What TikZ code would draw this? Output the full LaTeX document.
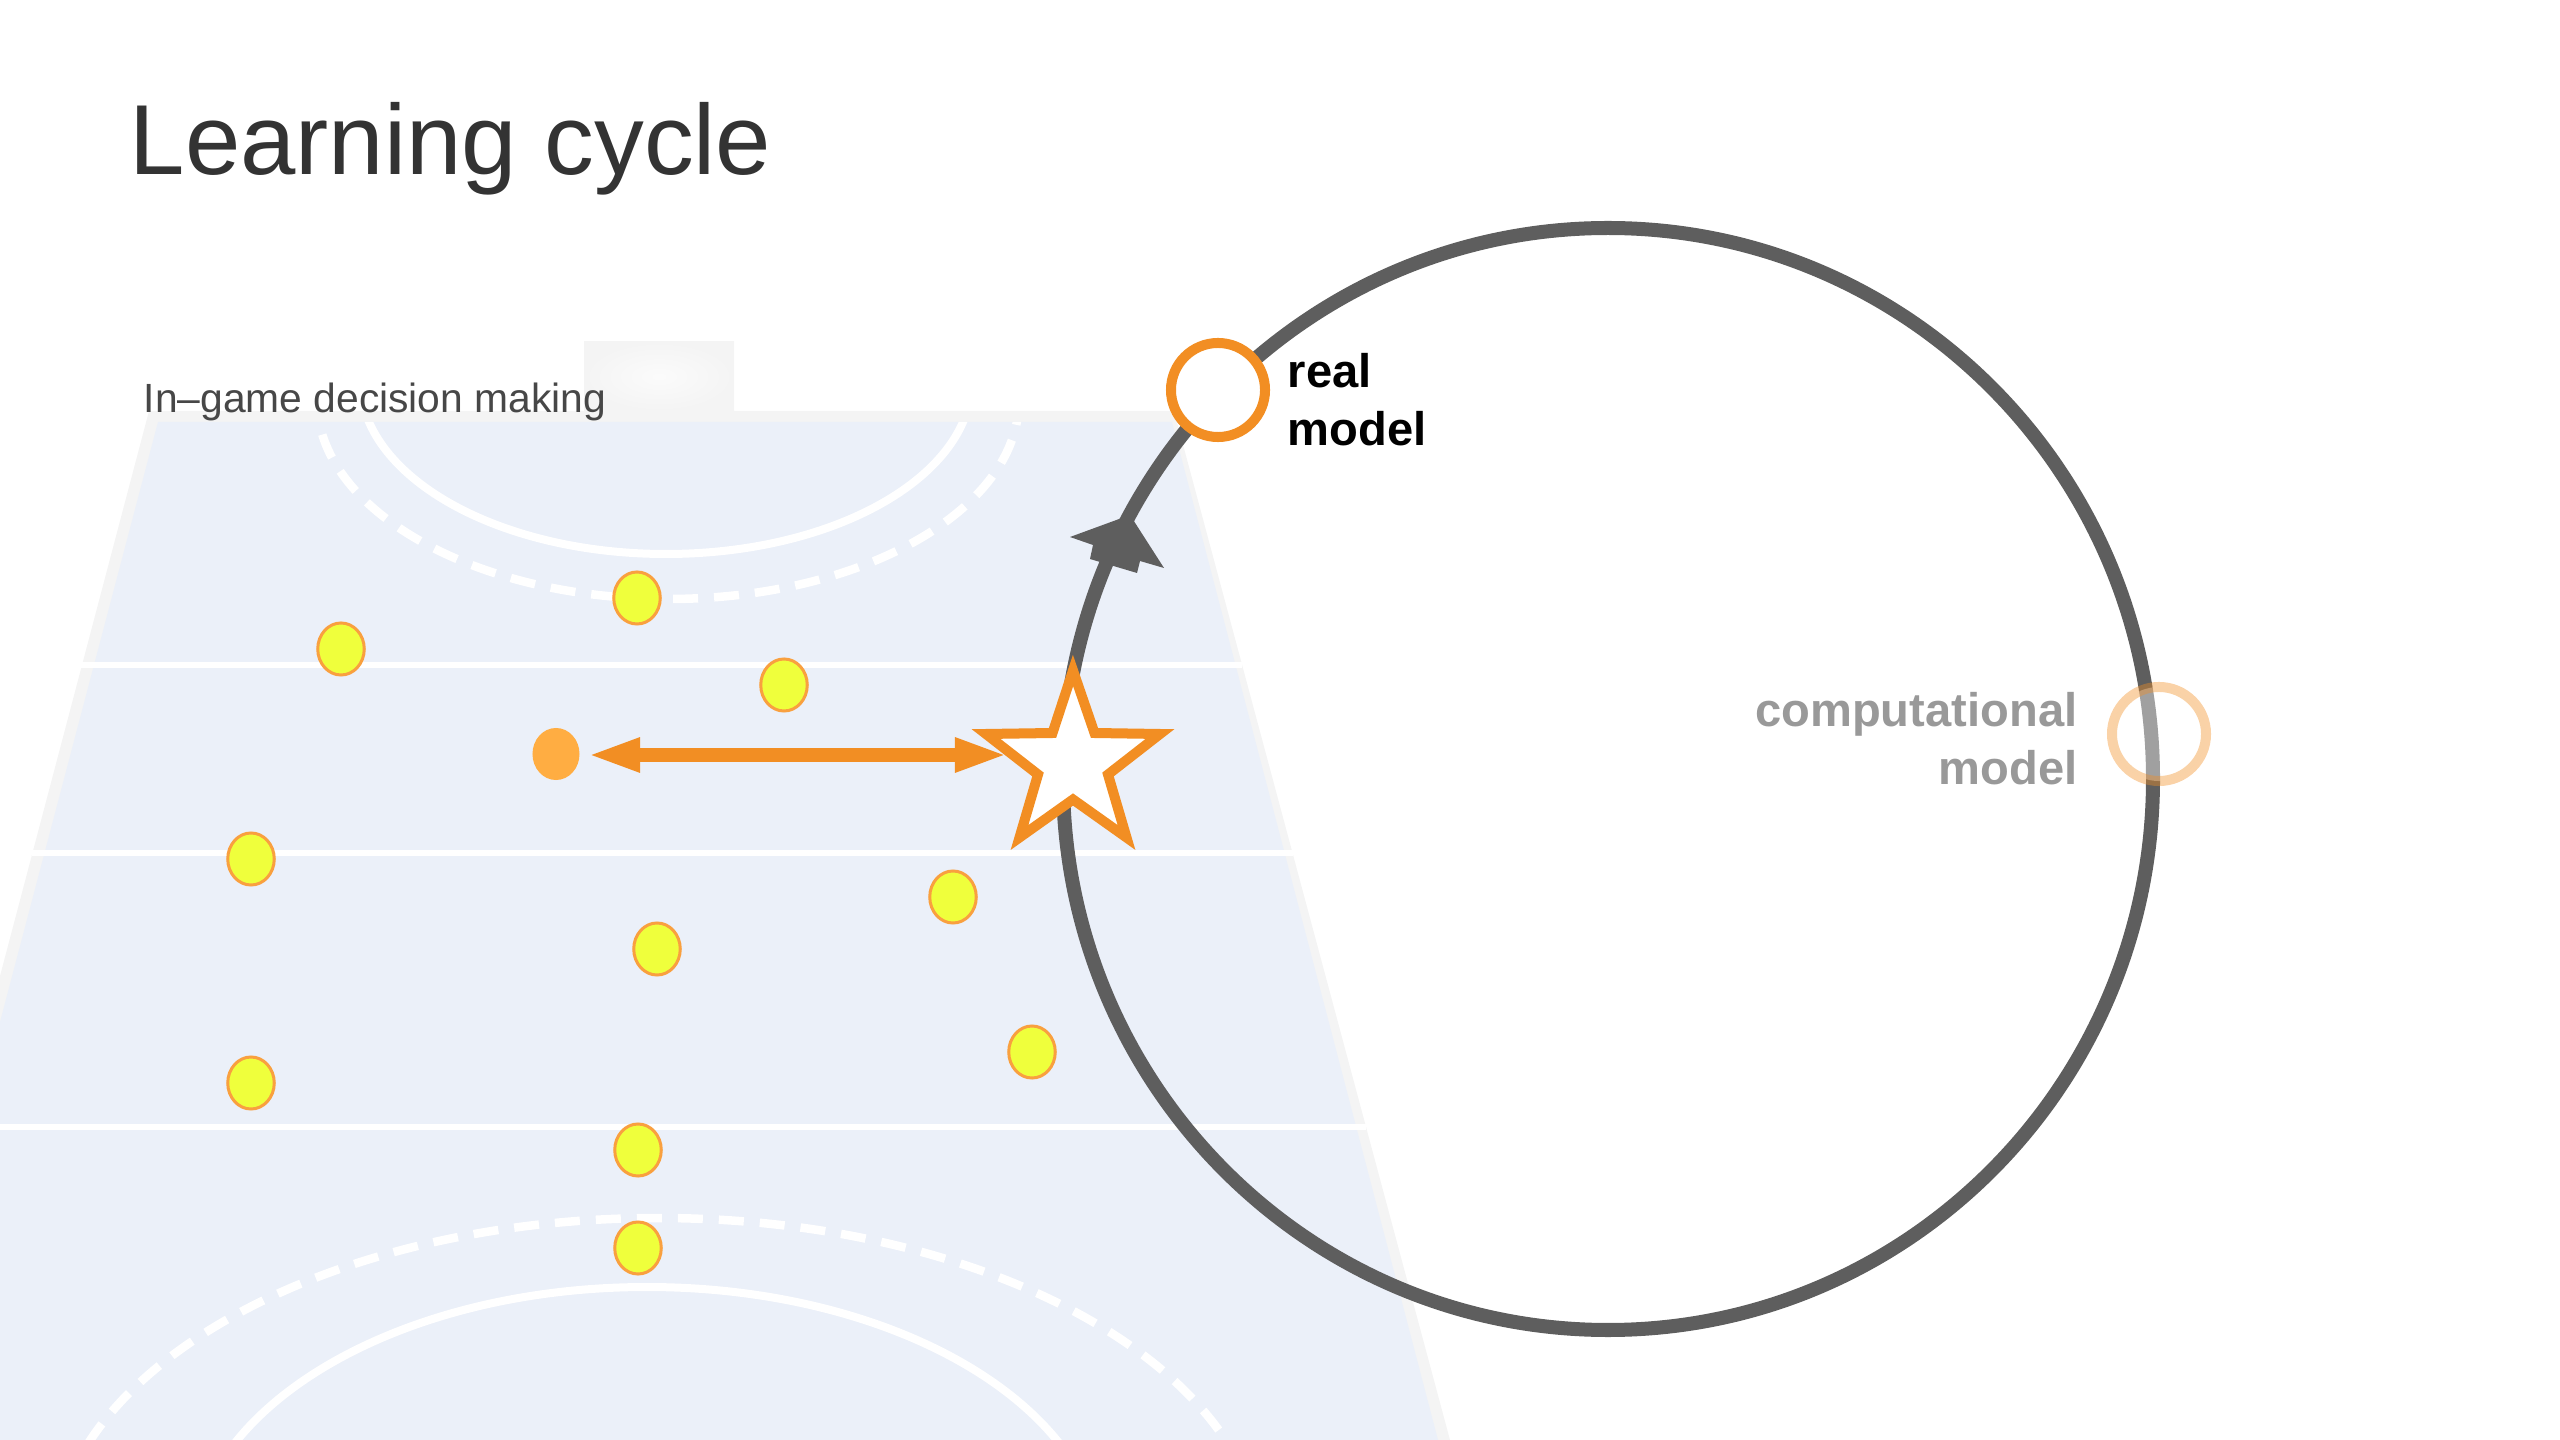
\documentclass[tikz,border=0pt]{standalone}
\usepackage{fontspec}
\setmainfont{Liberation Sans}
\usepackage{tikz}
\usetikzlibrary{arrows.meta,shapes.geometric}

\definecolor{courtfill}{HTML}{EBF0F9}
\definecolor{courtedge}{HTML}{F4F4F4}
\definecolor{cycleline}{HTML}{5E5E5E}
\definecolor{markorange}{HTML}{F28E23}
\definecolor{playerfill}{HTML}{EFFF3C}
\definecolor{playeredge}{HTML}{F9A03F}
\definecolor{keeperfill}{HTML}{FFAD42}

\tikzset{
    courtline/.style={white,line width=0.08cm},
    courtdash/.style={courtline,line width=0.085cm,dash pattern=on 0.25cm off 0.16cm},
    zoneline/.style={white,line width=0.053cm},
    player/.style={ellipse,draw=playeredge,fill=playerfill,line width=0.03cm,
        minimum width=0.465cm,minimum height=0.52cm,inner sep=0pt},
    modellabel/.style={font=\bfseries\fontsize{13.4pt}{16.5pt}\selectfont,inner sep=0pt},
}

\begin{document}
\begin{tikzpicture}
                [line join=miter,x={(0.01cm,0cm)},y={(0cm,-0.01cm)}]
                
                \useasboundingbox (0,0) rectangle (2560,1440);
                
                \node[anchor=base west,inner sep=0pt,text=black!80,font=\fontsize{28.3pt}{34pt}\selectfont] (title) at (129,175) {Learning cycle};
                
                % goal and court
                \shade[inner color=white!97!gray,outer color=courtedge] (584,342) rectangle (734,411);
                \fill[courtedge] (149,411) -- (1174,411) -- (1450,1440) -- (0,1440) -- (0,976) -- cycle;
                \fill[courtfill] (158,422) -- (1172,422) -- (1438,1440) -- (0,1440) -- (0,1022) -- cycle;
                
                \begin{scope}
                    \clip (158,422) -- (1172,422) -- (1438,1440) -- (0,1440) -- (0,1022) -- cycle;
                    \draw[courtline] (666,380) ellipse [x radius=306,y radius=174];
                    \draw[courtdash] (668,400) ellipse [x radius=351,y radius=199];
                    \draw[courtline] (647,1560) ellipse [x radius=456,y radius=273];
                    \draw[courtdash] (658,1560) ellipse [x radius=606,y radius=342];
                \end{scope}
                
                \draw[zoneline] (81,665) -- (1242,665);
                \draw[zoneline] (32,853) -- (1293,853);
                \draw[zoneline] (0,1127) -- (1366,1127);
                
                \node[anchor=base west,inner sep=0pt,text=black!72,font=\fontsize{11.6pt}{14pt}\selectfont] (decision) at (143,413) {In--game decision making};
                
                % players
                \node[player] (p1) at (637,598) {};
                \node[player] (p2) at (341,649) {};
                \node[player] (p3) at (784,685) {};
                \node[player] (p4) at (251,859) {};
                \node[player] (p5) at (953,897) {};
                \node[player] (p6) at (657,949) {};
                \node[player] (p7) at (251,1083) {};
                \node[player] (p8) at (1032,1052) {};
                \node[player] (p9) at (638,1150) {};
                \node[player] (p10) at (638,1248) {};
                \node[ellipse,fill=keeperfill,minimum width=0.47cm,minimum height=0.52cm,inner sep=0pt] (keeper) at (556,754) {};
                
                % the cycle
                \draw[cycleline,line width=0.14cm] (1608,779) ellipse [x radius=545,y radius=551];
                \fill[cycleline] (1070,537) -- (1130,515) -- (1164,568) -- (1140,561) -- (1137,573) -- (1090,559) -- (1093,545) -- cycle;
                
                \coordinate (arrowL) at (587,755);
                \coordinate (arrowR) at (1008,755);
                
                \filldraw[draw=markorange,fill=white,line width=0.1cm]
                    (1073,670.5) -- (1094.5,733) -- (1160,734) -- (1108,774.5) -- (1126.5,837.5) -- (1073,799.5)
                    -- (1019.5,837.5) -- (1038,774.5) -- (986,734) -- (1052.5,733) -- cycle;
                \draw[markorange,line width=0.14cm,{Triangle[length=0.53cm,width=0.31cm]}-{Triangle[length=0.53cm,width=0.31cm]}] (arrowL) -- (arrowR);
                
                % the two models
                \node[circle,draw=markorange,fill=white,line width=0.1cm,minimum size=0.94cm,inner sep=0pt] (real) at (1218,390) {};
                \node[circle,draw=markorange,draw opacity=0.4,fill=white,fill opacity=0.41,line width=0.1cm,minimum size=0.94cm,inner sep=0pt] (computational) at (2159,734) {};
                
                \node[modellabel,anchor=base west,align=left] (reallabel) at (1287,446) {real\\model};
                \node[modellabel,anchor=base east,align=right,text=black!40] (computationallabel) at (2078,785) {computational\\model};
\end{tikzpicture}
\end{document}
